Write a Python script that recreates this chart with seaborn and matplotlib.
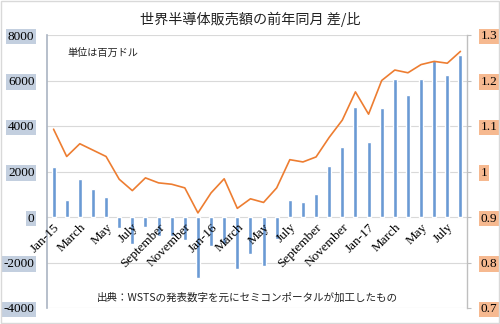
import matplotlib
matplotlib.use("Agg")
import matplotlib.pyplot as plt
from matplotlib.patches import Rectangle
import seaborn as sns
import numpy as np
import pandas as pd

# ---- data ----
months = [f"{y}-{m:02d}" for y in (2015, 2016, 2017) for m in range(1, 13)][:32]
diff = [2210, 740, 1690, 1235, 900, -480, -1195, -437, -850, -850, -990, -2665,
        -1285, -1200, -2300, -1645, -2155, -950, 757, 640, 1020, 2230, 3090, 4845,
        3290, 4780, 6050, 5350, 6050, 6900, 6230, 7120]
ratio = [1.093, 1.033, 1.061, 1.047, 1.033, 0.983, 0.958, 0.986, 0.975, 0.972, 0.964, 0.909,
         0.953, 0.984, 0.919, 0.940, 0.932, 0.964, 1.026, 1.021, 1.032, 1.075, 1.113, 1.175,
         1.126, 1.200, 1.223, 1.217, 1.235, 1.242, 1.238, 1.264]
xlabels = ["Jan-15", "March", "May", "July", "September", "November",
           "Jan-16", "March", "May", "July", "September", "November",
           "Jan-17", "March", "May", "July"]
left_ticks = [-4000, -2000, 0, 2000, 4000, 6000, 8000]
left_labels = ["-4000", "-2000", "0", "2000", "4000", "6000", "8000"]
right_ticks = [0.7, 0.8, 0.9, 1.0, 1.1, 1.2, 1.3]
right_labels = ["0.7", "0.8", "0.9", "1", "1.1", "1.2", "1.3"]
title = "世界半導体販売額の前年同月 差/比"
unit_note = "単位は百万ドル"
source_note = "出典：WSTSの発表数字を元にセミコンポータルが加工したもの"

df = pd.DataFrame({"idx": np.arange(len(months)), "month": months,
                   "diff": diff, "ratio": ratio})

sns.set_style("white")
plt.rcParams['font.family'] = ['Liberation Serif', 'DejaVu Serif']
JP = ['Noto Sans CJK JP', 'DejaVu Sans']

fig = plt.figure(figsize=(5, 3.24), dpi=100)
ax = fig.add_axes([47/500, 1-308/324, 420/500, 273/324])
ax.set_axisbelow(False)

for t in left_ticks:
    ax.axhline(t, color='#d9d9d9', lw=0.8, zorder=0)

sns.barplot(data=df, x="idx", y="diff", native_scale=True, width=0.3,
            color='#6a9ad4', saturation=1, ax=ax, zorder=1)

ax2 = ax.twinx()
sns.lineplot(data=df, x="idx", y="ratio", color='#ed7d31', lw=1.2, ax=ax2)

ax.set_xlim(-0.5, 31.5)
ax.set_ylim(-4000, 8000)
ax.set_yticks(left_ticks)
ax.set_yticklabels(left_labels)
ax.set_xticks(np.arange(0, 32, 2))
ax.set_xticklabels(xlabels)
ax.set_xlabel("")
ax.set_ylabel("")
ax.grid(False)
ax.set_axisbelow(False)

ax.spines['bottom'].set_position(('data', 0))
ax.spines['bottom'].set_visible(False)
ax.spines['top'].set_visible(False)
ax.spines['right'].set_visible(False)
ax.spines['left'].set_color('#aab4c2')
ax.spines['left'].set_linewidth(1.2)
ax.tick_params(axis='x', length=0, pad=3, labelsize=9.5, colors='black')
ax.tick_params(axis='y', length=0, pad=9, labelsize=9.5, colors='black')

ax2.set_xlim(-0.5, 31.5)
ax2.set_ylim(0.7, 1.3)
ax2.set_yticks(right_ticks)
ax2.set_yticklabels(right_labels)
ax2.set_ylabel("")
ax2.set_xlabel("")
for s in ['top', 'left', 'bottom']:
    ax2.spines[s].set_visible(False)
ax2.spines['right'].set_color('#bfbfbf')
ax2.spines['right'].set_linewidth(1.0)
ax2.tick_params(axis='y', length=3, width=0.8, pad=7, labelsize=9.5, colors='black')
ax2.tick_params(axis='y', color='#bfbfbf')

fig.text(250/500, 1-19/324, title, ha='center', va='center', fontsize=10.2,
         family=JP, color='#222222')
fig.text(67/500, 1-53/324, unit_note, ha='left', va='center', fontsize=7.3,
         family=JP, color='#222222')
fig.text(97/500, 1-298/324, source_note, ha='left', va='center', fontsize=7.6,
         family=JP, color='#222222')

fig.patches.append(Rectangle((0.002, 0.003), 0.996, 0.994, transform=fig.transFigure,
                             fill=False, edgecolor='#d9d9d9', lw=1))

fig.canvas.draw()
for lab in ax.get_xticklabels():
    lab.set_rotation(45)
    lab.set_ha('right')
    lab.set_rotation_mode('anchor')
for lab in ax.get_yticklabels():
    lab.set_bbox(dict(boxstyle='square,pad=0.12', fc='#c3cfdf', ec='none'))
for lab in ax2.get_yticklabels():
    lab.set_bbox(dict(boxstyle='square,pad=0.12', fc='#f6b990', ec='none'))

fig.savefig("out.png", dpi=100)
